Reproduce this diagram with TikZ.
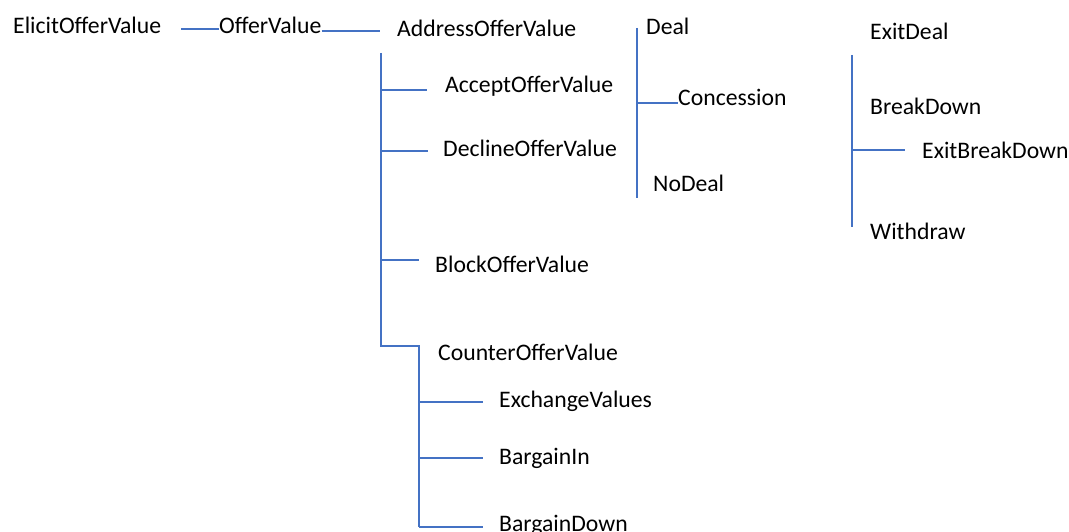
\documentclass[tikz,border=0pt]{standalone}
\usepackage{fontspec}
\setmainfont{Carlito}
\usepackage{xcolor}
\definecolor{branchBlue}{RGB}{68,114,196}
\newcommand{\treeFont}{\fontsize{23.7}{28}\selectfont}
\newcommand{\branchWidth}{1.6pt}
\tikzset{
  leaf/.style={anchor=base west, inner sep=0pt, font=\treeFont, text=black},
  branch/.style={draw=branchBlue, line width=\branchWidth},
}

\begin{document}
\begin{tikzpicture}[x=1pt, y=-1pt]
\useasboundingbox (0,0) rectangle (1069,532);

% offer value labels
\node[leaf] (elicit) at (13,34) {ElicitOfferValue};
\node[leaf] (offer) at (219,34) {OfferValue};
\node[leaf] (address) at (397,37) {AddressOfferValue};
\node[leaf] (accept) at (445,93) {AcceptOfferValue};
\node[leaf] (decline) at (443,157) {DeclineOfferValue};
\node[leaf] (block) at (435,272) {BlockOfferValue};
\node[leaf] (counter) at (438,360) {CounterOfferValue};
\node[leaf] (exchange) at (499,407) {ExchangeValues};
\node[leaf] (bargainIn) at (499,464) {BargainIn};
\node[leaf] (bargainDown) at (499,531) {BargainDown};
\node[leaf] (deal) at (646,35) {Deal};
\node[leaf] (concession) at (678,106) {Concession};
\node[leaf] (noDeal) at (653,192) {NoDeal};
\node[leaf] (exitDeal) at (870,40) {ExitDeal};
\node[leaf] (breakDown) at (870,115) {BreakDown};
\node[leaf] (exitBreakDown) at (922,159) {ExitBreakDown};
\node[leaf] (withdraw) at (870,240) {Withdraw};

% trunk ends
\coordinate (elicitOut) at (181,29);
\coordinate (addressIn) at (380,31);
\coordinate (addressTop) at (381,53);
\coordinate (addressBot) at (381,346);
\coordinate (counterTop) at (419,346);
\coordinate (counterBot) at (419,527);
\coordinate (dealTop) at (637,28);
\coordinate (dealBot) at (637,198);
\coordinate (exitTop) at (852,55);
\coordinate (exitBot) at (852,227);

% branch ends
\coordinate (acceptIn) at (427,90);
\coordinate (declineIn) at (428,151);
\coordinate (blockIn) at (419,260);
\coordinate (exchangeIn) at (483,402);
\coordinate (bargainInIn) at (483,458);
\coordinate (bargainDownIn) at (483,527);
\coordinate (concessionIn) at (678,103);
\coordinate (exitBreakDownIn) at (905,150);

\draw[branch] (elicitOut) -- (offer.west |- elicitOut);
\draw[branch] (offer.east |- addressIn) -- (addressIn);

\draw[branch] (addressTop) -- (addressBot) -- (counterTop) -- (counterBot);
\draw[branch] (addressTop |- acceptIn) -- (acceptIn);
\draw[branch] (addressTop |- declineIn) -- (declineIn);
\draw[branch] (addressTop |- blockIn) -- (blockIn);

\draw[branch] (counterTop |- exchangeIn) -- (exchangeIn);
\draw[branch] (counterTop |- bargainInIn) -- (bargainInIn);
\draw[branch] (counterTop |- bargainDownIn) -- (bargainDownIn);

\draw[branch] (dealTop) -- (dealBot);
\draw[branch] (dealTop |- concessionIn) -- (concessionIn);

\draw[branch] (exitTop) -- (exitBot);
\draw[branch] (exitTop |- exitBreakDownIn) -- (exitBreakDownIn);
\end{tikzpicture}
\end{document}
